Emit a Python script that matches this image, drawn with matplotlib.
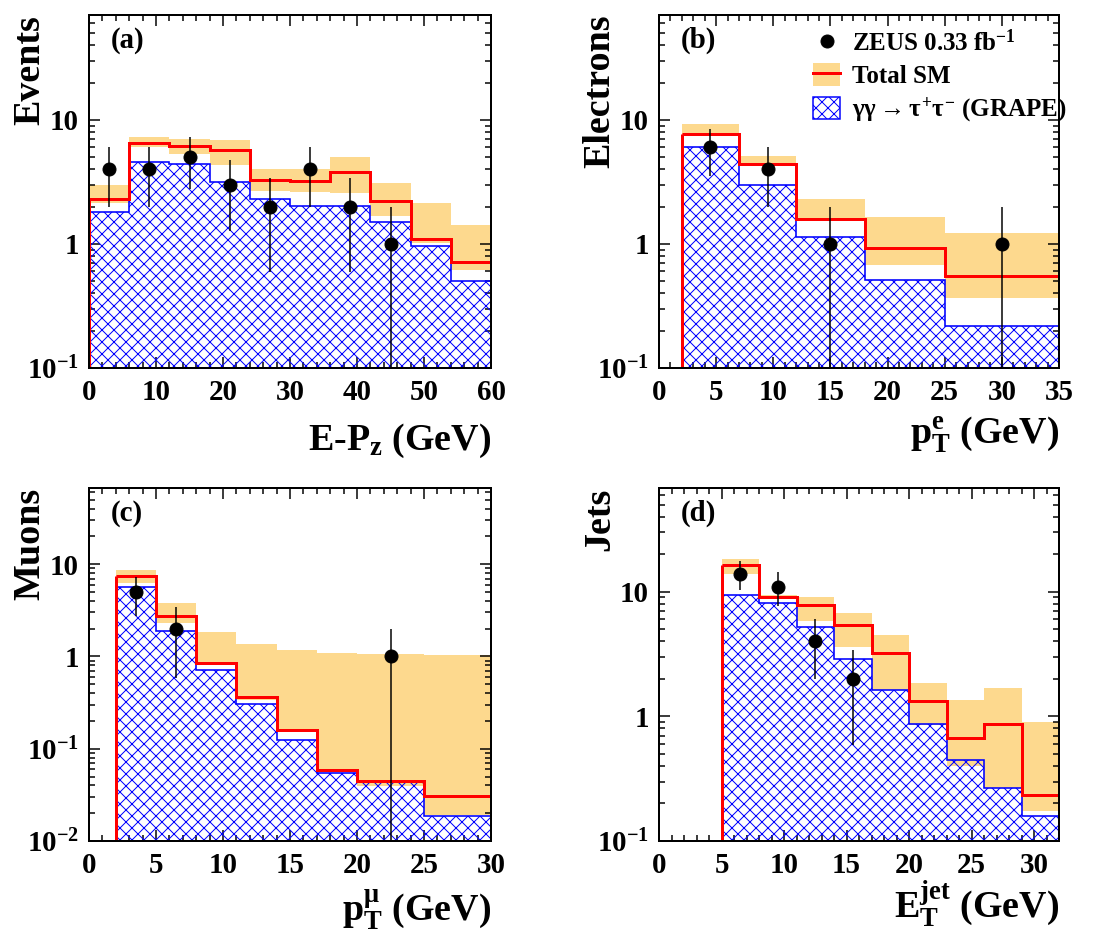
import numpy as np
import matplotlib
matplotlib.use("Agg")
import matplotlib.pyplot as plt
from matplotlib.patches import Patch
from matplotlib.lines import Line2D
from matplotlib.ticker import FixedLocator, FixedFormatter, MultipleLocator, LogLocator, NullFormatter

# ---------------- data ----------------
# (a) E - Pz
edges_a = [0, 6, 12, 18, 24, 30, 36, 42, 48, 54, 60]
sm_a = [2.29, 6.48, 6.17, 5.73, 3.28, 3.2, 3.8, 2.22, 1.09, 0.716]
sm_hi_a = [2.99, 7.25, 6.97, 6.9, 4.0, 4.0, 5.0, 3.09, 2.13, 1.42]
sm_lo_a = [2.13, 6.0, 5.29, 4.34, 2.69, 2.64, 2.56, 1.68, 1.01, 0.617]
grape_a = [1.81, 4.56, 4.37, 3.16, 2.29, 2.04, 2.04, 1.5, 0.96, 0.506]
data_x_a = [3, 9, 15, 21, 27, 33, 39, 45]
data_y_a = [4, 4, 5, 3, 2, 4, 2, 1]
data_err_a = [2.0, 2.0, 2.24, 1.73, 1.41, 2.0, 1.41, 1.0]

# (b) electron pT
edges_b = [2, 7, 12, 18, 25, 35]
sm_b = [7.71, 4.42, 1.59, 0.934, 0.556]
sm_hi_b = [9.23, 5.13, 2.32, 1.66, 1.23]
sm_lo_b = [7.4, 4.3, 1.55, 0.677, 0.365]
grape_b = [6.02, 2.99, 1.14, 0.51, 0.22]
data_x_b = [4.5, 9.5, 15, 30]
data_y_b = [6, 4, 1, 1]
data_err_b = [2.45, 2.0, 1.0, 1.0]

# (c) muon pT
edges_c = [2, 5, 8, 11, 14, 17, 20, 25, 30]
sm_c = [7.48, 2.76, 0.854, 0.36, 0.159, 0.0593, 0.0447, 0.0305]
sm_hi_c = [8.6, 3.81, 1.83, 1.38, 1.18, 1.09, 1.07, 1.03]
sm_lo_c = [6.2, 2.3, 0.82, 0.34, 0.15, 0.056, 0.039, 0.019]
grape_c = [5.63, 1.91, 0.717, 0.305, 0.125, 0.0545, 0.0443, 0.0188]
data_x_c = [3.5, 6.5, 22.5]
data_y_c = [5, 2, 1]
data_err_c = [2.24, 1.41, 1.0]

# (d) jet ET
edges_d = [5, 8, 11, 14, 17, 20, 23, 26, 29, 32]
sm_d = [16.3, 9.0, 7.82, 5.41, 3.25, 1.32, 0.67, 0.87, 0.236]
sm_hi_d = [18.2, 9.4, 9.0, 6.71, 4.5, 1.85, 1.36, 1.69, 0.895]
sm_lo_d = [14.0, 8.8, 5.82, 3.59, 1.63, 0.86, 0.40, 0.267, 0.174]
grape_d = [9.4, 8.07, 5.25, 2.89, 1.63, 0.87, 0.45, 0.267, 0.158]
data_x_d = [6.5, 9.5, 12.5, 15.5]
data_y_d = [14, 11, 4, 2]
data_err_d = [3.74, 3.32, 2.0, 1.41]

ytick_vals_3 = [0.1, 1, 10]
ytick_labels_3 = [r"10$^{\mathbf{-1}}$", "1", "10"]
ytick_vals_4 = [0.01, 0.1, 1, 10]
ytick_labels_4 = [r"10$^{\mathbf{-2}}$", r"10$^{\mathbf{-1}}$", "1", "10"]

legend_labels = [r"ZEUS 0.33 fb$^{\mathbf{-1}}$", "Total SM",
                 r"$\gamma\gamma\rightarrow\tau^{+}\tau^{-}$ (GRAPE)"]

# ---------------- style ----------------
plt.rcParams["font.family"] = ["Liberation Serif", "DejaVu Serif"]
plt.rcParams["font.weight"] = "bold"
plt.rcParams["mathtext.fontset"] = "custom"
plt.rcParams["mathtext.rm"] = "Liberation Serif"
plt.rcParams["mathtext.it"] = "Liberation Serif"
plt.rcParams["mathtext.bf"] = "Liberation Serif:bold"
plt.rcParams["hatch.linewidth"] = 1.0

ORANGE = "#fdd98e"
RED = "#ff0000"
BLUE = "#0000ff"

DPI = 72
W, H = 1103, 936
fig = plt.figure(figsize=(W / DPI, H / DPI), dpi=DPI)


def add_axes_px(l, t, r, b):
    return fig.add_axes([l / W, 1 - b / H, (r - l) / W, (b - t) / H])


def draw_panel(ax, edges, sm, hi, lo, grape, dx, dy, derr, xlim, ylim,
               yticks, ylabels, xmajor, xminor, ylabel, xlabel, xlab_off, tag):
    ymin = ylim[0]
    base = ymin * 1e-2
    ax.set_yscale("log")
    # SM uncertainty band
    ax.stairs(hi, edges, baseline=lo, fill=True, color=ORANGE, lw=0, zorder=1)
    # GRAPE hatched histogram
    ax.stairs(grape, edges, baseline=base, fill=True, facecolor="none",
              edgecolor=BLUE, hatch="xx", lw=0, zorder=2)
    ax.stairs(grape, edges, baseline=None, color=BLUE, lw=1.6, zorder=3)
    ax.vlines(edges[0], base, grape[0], color=BLUE, lw=1.6, zorder=3)
    if edges[0] > xlim[0]:
        ax.hlines(ymin, xlim[0], edges[0], color=BLUE, lw=1.6, zorder=3)
    # total SM
    ax.stairs(sm, edges, baseline=None, color=RED, lw=3, zorder=4)
    ax.vlines(edges[0], base, sm[0], color=RED, lw=3, zorder=4)
    # data
    dy = np.asarray(dy, float)
    derr = np.asarray(derr, float)
    lower = np.minimum(derr, dy - base)
    ax.errorbar(dx, dy, yerr=[lower, derr], fmt="o", color="black", ms=13,
                elinewidth=1.5, capsize=0, zorder=5)

    ax.set_xlim(*xlim)
    ax.set_ylim(*ylim)
    ax.yaxis.set_major_locator(FixedLocator(yticks))
    ax.yaxis.set_major_formatter(FixedFormatter(ylabels))
    ax.yaxis.set_minor_locator(LogLocator(base=10, subs=np.arange(2, 10)))
    ax.yaxis.set_minor_formatter(NullFormatter())
    ax.xaxis.set_major_locator(MultipleLocator(xmajor))
    ax.xaxis.set_minor_locator(MultipleLocator(xminor))
    ax.tick_params(which="both", direction="in", top=True, right=True,
                   labelsize=29, width=1.5)
    ax.tick_params(which="major", length=11)
    ax.tick_params(which="minor", length=6)
    ax.tick_params(axis="x", pad=11)
    ax.tick_params(axis="y", pad=10)
    for lab in ax.get_xticklabels() + ax.get_yticklabels():
        lab.set_fontweight("bold")
    for sp in ax.spines.values():
        sp.set_linewidth(2)
        sp.set_zorder(6)

    ax.set_ylabel(ylabel, fontsize=38, fontweight="bold", loc="top")
    ax.yaxis.set_label_coords(-0.104, 1.0)
    ax.set_xlabel(xlabel, fontsize=38, fontweight="bold", loc="right")
    ax.xaxis.label.set_va("baseline")
    h_px = ax.get_position().height * H
    ax.xaxis.set_label_coords(1.0, -xlab_off / h_px)
    ax.text(0.055, 0.927, tag, transform=ax.transAxes, fontsize=29,
            fontweight="bold", ha="left", va="center")


ax_a = add_axes_px(89, 15, 491, 368)
ax_b = add_axes_px(659, 15, 1059, 368)
ax_c = add_axes_px(89, 488, 491, 841)
ax_d = add_axes_px(659, 488, 1059, 841)

draw_panel(ax_a, edges_a, sm_a, sm_hi_a, sm_lo_a, grape_a, data_x_a, data_y_a,
           data_err_a, (0, 60), (0.1, 70), ytick_vals_3, ytick_labels_3, 10, 2,
           "Events", r"E-P$_{\mathbf{z}}$ (GeV)", 82, "(a)")
draw_panel(ax_b, edges_b, sm_b, sm_hi_b, sm_lo_b, grape_b, data_x_b, data_y_b,
           data_err_b, (0, 35), (0.1, 70), ytick_vals_3, ytick_labels_3, 5, 1,
           "Electrons", r"p$_{\mathbf{T}}^{\mathbf{e}}$ (GeV)", 75, "(b)")
draw_panel(ax_c, edges_c, sm_c, sm_hi_c, sm_lo_c, grape_c, data_x_c, data_y_c,
           data_err_c, (0, 30), (0.01, 67), ytick_vals_4, ytick_labels_4, 5, 1,
           "Muons", r"p$_{\mathbf{T}}^{\mu}$ (GeV)", 81, "(c)")
draw_panel(ax_d, edges_d, sm_d, sm_hi_d, sm_lo_d, grape_d, data_x_d, data_y_d,
           data_err_d, (0, 32), (0.1, 68), ytick_vals_3, ytick_labels_3, 5, 1,
           "Jets", r"E$_{\mathbf{T}}^{\mathbf{jet}}$ (GeV)", 77, "(d)")

# legend in panel (b)
h_data = Line2D([], [], marker="o", color="black", ls="none", ms=13)
h_sm = (Patch(facecolor=ORANGE, edgecolor="none"), Line2D([], [], color=RED, lw=3))
h_grape = Patch(facecolor="white", edgecolor=BLUE, hatch="xx", lw=1.5)
leg = ax_b.legend([h_data, h_sm, h_grape], legend_labels, loc="upper left",
                  bbox_to_anchor=(0.385, 0.959), frameon=False, fontsize=25,
                  handlelength=1.08, handleheight=1.0, handletextpad=0.48,
                  labelspacing=0.3, borderpad=0, borderaxespad=0)
for t in leg.get_texts():
    t.set_fontweight("bold")

fig.savefig("out.png", dpi=DPI)
